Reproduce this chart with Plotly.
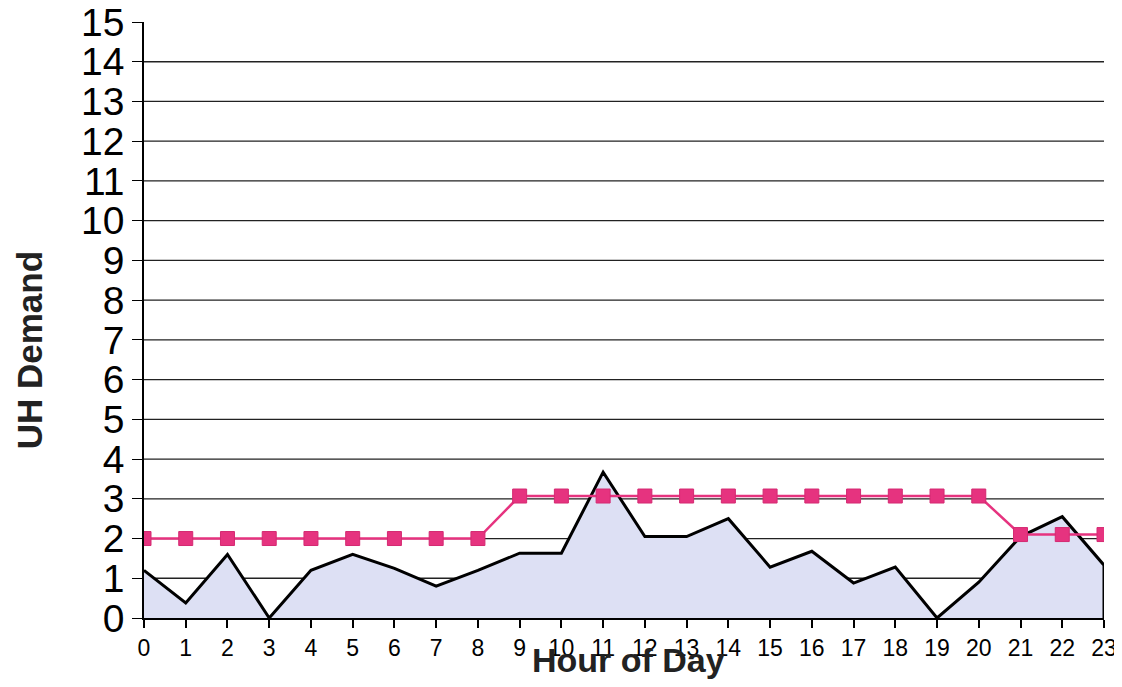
import plotly.graph_objects as go

hours = list(range(24))
hour_labels = [str(h) for h in hours]
uh_demand = [1.2, 0.38, 1.6, 0.0, 1.2, 1.6, 1.25, 0.8, 1.2, 1.63, 1.63, 3.67,
             2.05, 2.05, 2.5, 1.28, 1.68, 0.88, 1.28, 0.0, 0.9, 2.05, 2.55, 1.33]
uh_capacity = [2.0, 2.0, 2.0, 2.0, 2.0, 2.0, 2.0, 2.0, 2.0, 3.07, 3.07, 3.07,
               3.07, 3.07, 3.07, 3.07, 3.07, 3.07, 3.07, 3.07, 3.07, 2.1, 2.1, 2.1]
y_ticks = list(range(16))

fig = go.Figure()
# area closed at the right edge (vertical drop to zero at the last hour)
fig.add_trace(go.Scatter(
    x=hours + [hours[-1]], y=uh_demand + [0], mode="lines", fill="tozeroy",
    fillcolor="#dde0f4", line=dict(color="black", width=3),
    showlegend=False, hoverinfo="skip"))
fig.add_trace(go.Scatter(
    x=hours, y=uh_capacity, mode="lines+markers",
    line=dict(color="#e6337f", width=2.5),
    marker=dict(symbol="square", size=14, color="#e6337f",
                line=dict(color="#d42a72", width=1)),
    showlegend=False))

shapes = [dict(type="line", xref="paper", x0=0, x1=1, yref="y", y0=v, y1=v,
               line=dict(color="#222222", width=1.3), layer="below")
          for v in y_ticks[1:-1]]

fig.update_layout(
    width=1114, height=671,
    margin=dict(l=136, r=18, t=14, b=61),
    paper_bgcolor="white", plot_bgcolor="white",
    font=dict(family="Liberation Sans, Arial, sans-serif", color="black"),
    shapes=shapes,
    xaxis=dict(range=[0, 23], tickvals=hours, ticktext=hour_labels,
               showgrid=False, zeroline=False, showline=True,
               linecolor="black", linewidth=2, ticks="outside",
               ticklen=8, tickcolor="black", tickwidth=1.5,
               tickfont=dict(size=23), automargin=False,
               ticklabeloverflow="allow"),
    yaxis=dict(range=[0, 15], tickvals=y_ticks, showgrid=False,
               zeroline=False, showline=True, linecolor="black", linewidth=1.5,
               ticks="outside", ticklen=10, tickcolor="black", tickwidth=1.3,
               tickfont=dict(size=39), automargin=False,
               ticklabeloverflow="allow"),
    annotations=[
        dict(text="<b>Hour of Day</b>", xref="paper", yref="paper",
             x=0.505, y=-0.071, xanchor="center", yanchor="middle",
             showarrow=False, font=dict(size=34, color="#222222")),
        dict(text="<b>UH Demand</b>", xref="paper", yref="paper",
             x=-0.1417, y=0.45, xanchor="left", yanchor="middle",
             textangle=-90, showarrow=False, font=dict(size=35, color="#222222")),
    ],
)

fig.write_html("out.html")
